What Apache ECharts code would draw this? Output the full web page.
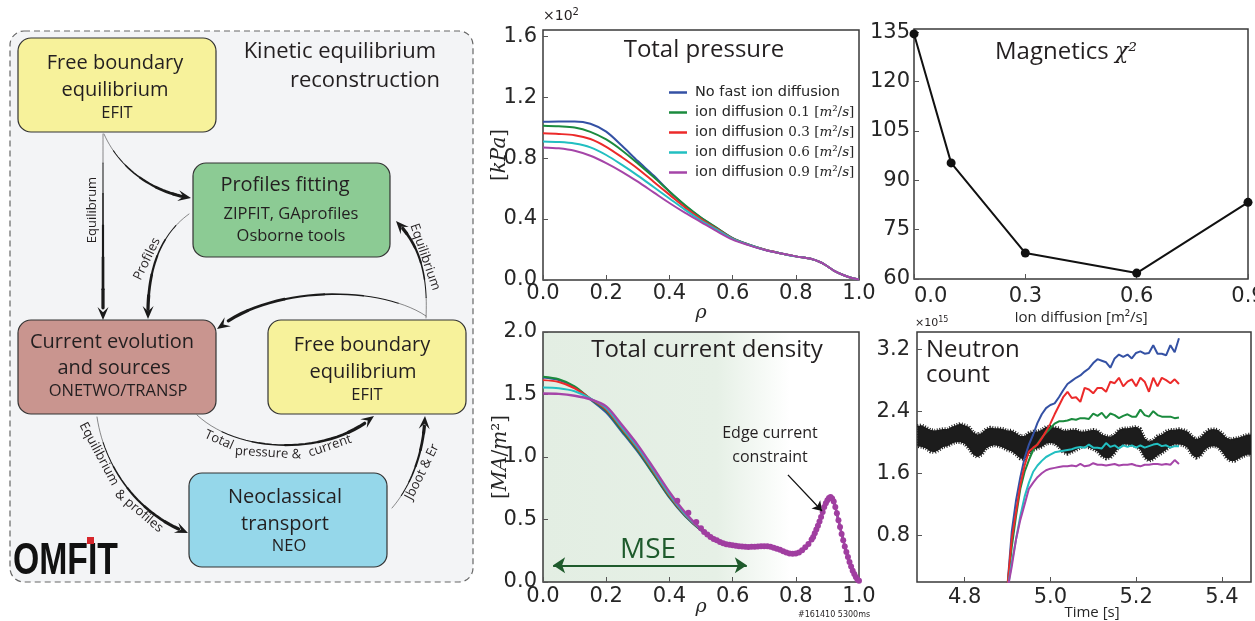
<!DOCTYPE html>
<html>
<head>
<meta charset="utf-8">
<title>Kinetic equilibrium reconstruction</title>
<script src="https://cdn.jsdelivr.net/npm/echarts@6/dist/echarts.min.js"></script>
<style>
  html, body { margin: 0; padding: 0; background: #fff; }
  #main { width: 1255px; height: 621px; }
</style>
</head>
<body>
<div id="main"></div>
<script>
// ---- data ----
const seriesColors = ['#3451a4', '#1b8b3e', '#ec2a2a', '#22bfc1', '#a545a8'];
const pressureNames = ['No fast ion diffusion', 'ion diffusion 0.1', 'ion diffusion 0.3', 'ion diffusion 0.6', 'ion diffusion 0.9'];
const diffRates = ['0.1', '0.3', '0.6', '0.9'];

// total pressure [kPa x 10^2] vs rho
const pressRho = [0, 0.05, 0.1, 0.15, 0.2, 0.25, 0.3, 0.35, 0.4, 0.45, 0.5, 0.55, 0.6, 0.65, 0.7, 0.75, 0.8, 0.85, 0.88, 0.9, 0.92, 0.95, 0.98, 1.0];
const pressBlue   = [1.038, 1.04, 1.04, 1.025, 0.973, 0.88, 0.78, 0.685, 0.58, 0.487, 0.408, 0.34, 0.275, 0.233, 0.2, 0.176, 0.155, 0.138, 0.115, 0.09, 0.062, 0.033, 0.012, 0.004];
const pressGreen  = [1.012, 1.008, 1.0, 0.972, 0.922, 0.85, 0.765, 0.675, 0.58, 0.49, 0.41, 0.343, 0.275, 0.233, 0.2, 0.176, 0.155, 0.138, 0.115, 0.09, 0.062, 0.033, 0.012, 0.004];
const pressRed    = [0.962, 0.958, 0.95, 0.925, 0.874, 0.805, 0.73, 0.645, 0.56, 0.475, 0.4, 0.335, 0.272, 0.232, 0.2, 0.176, 0.155, 0.138, 0.115, 0.09, 0.062, 0.033, 0.012, 0.004];
const pressCyan   = [0.909, 0.905, 0.895, 0.87, 0.82, 0.755, 0.685, 0.61, 0.535, 0.46, 0.39, 0.33, 0.27, 0.231, 0.199, 0.176, 0.155, 0.138, 0.115, 0.09, 0.062, 0.033, 0.012, 0.004];
const pressPurple = [0.87, 0.864, 0.848, 0.815, 0.767, 0.71, 0.645, 0.575, 0.505, 0.44, 0.38, 0.32, 0.265, 0.229, 0.198, 0.175, 0.155, 0.138, 0.115, 0.09, 0.062, 0.033, 0.012, 0.004];

// magnetics chi^2 vs ion diffusion
const diffusion = [0, 0.1, 0.3, 0.6, 0.9];
const chi2 = [134.5, 95.3, 67.9, 61.8, 83.3];

// total current density [MA/m^2] vs rho
const curRho = [0, 0.05, 0.1, 0.15, 0.2, 0.25, 0.3, 0.35, 0.4, 0.45, 0.5, 0.55, 0.6, 0.65, 0.7, 0.75, 0.78, 0.8, 0.82, 0.85, 0.88, 0.9, 0.91, 0.92, 0.94, 0.96, 0.98, 1.0];
const curBlue   = [1.635, 1.615, 1.56, 1.46, 1.355, 1.2, 1.04, 0.86, 0.675, 0.525, 0.413, 0.335, 0.295, 0.282, 0.287, 0.262, 0.228, 0.23, 0.252, 0.34, 0.52, 0.655, 0.68, 0.645, 0.44, 0.24, 0.09, 0.01];
const curGreen  = [1.642, 1.622, 1.566, 1.465, 1.37, 1.21, 1.05, 0.865, 0.68, 0.53, 0.415, 0.335, 0.295, 0.282, 0.287, 0.262, 0.228, 0.23, 0.252, 0.34, 0.52, 0.655, 0.68, 0.645, 0.44, 0.24, 0.09, 0.01];
const curRed    = [1.615, 1.6, 1.55, 1.468, 1.38, 1.225, 1.065, 0.88, 0.69, 0.535, 0.418, 0.336, 0.295, 0.282, 0.287, 0.262, 0.228, 0.23, 0.253, 0.34, 0.52, 0.655, 0.68, 0.645, 0.44, 0.24, 0.09, 0.01];
const curCyan   = [1.556, 1.55, 1.526, 1.468, 1.39, 1.235, 1.075, 0.89, 0.70, 0.54, 0.42, 0.337, 0.296, 0.283, 0.288, 0.262, 0.228, 0.23, 0.253, 0.34, 0.52, 0.656, 0.68, 0.645, 0.44, 0.24, 0.09, 0.01];
const curPurple = [1.508, 1.505, 1.49, 1.462, 1.405, 1.255, 1.095, 0.91, 0.72, 0.555, 0.425, 0.338, 0.296, 0.283, 0.288, 0.262, 0.228, 0.23, 0.254, 0.34, 0.52, 0.656, 0.68, 0.645, 0.44, 0.24, 0.09, 0.01];
// constraint points (purple dots)
const dotRho = [0.425, 0.46, 0.485, 0.50, 0.51, 0.52, 0.53, 0.54, 0.55, 0.56, 0.57, 0.58, 0.59, 0.60, 0.61, 0.62, 0.63, 0.64, 0.65,
                0.66, 0.67, 0.68, 0.69, 0.70, 0.71, 0.72, 0.73, 0.74, 0.75, 0.76, 0.77, 0.78, 0.79, 0.80, 0.81, 0.82, 0.83, 0.84,
                0.85, 0.855, 0.86, 0.865, 0.87, 0.875, 0.88, 0.885, 0.89, 0.895, 0.90, 0.905, 0.91, 0.915, 0.92, 0.925, 0.93,
                0.935, 0.94, 0.945, 0.95, 0.955, 0.96, 0.965, 0.97, 0.975, 0.98, 0.985, 0.99, 0.995, 1.0];
const dotVal = [0.65, 0.554, 0.48, 0.43, 0.40, 0.38, 0.36, 0.345, 0.335, 0.32, 0.31, 0.303, 0.298, 0.295, 0.29, 0.287, 0.285, 0.283, 0.281,
                0.282, 0.283, 0.285, 0.287, 0.287, 0.286, 0.282, 0.275, 0.267, 0.258, 0.246, 0.236, 0.229, 0.226, 0.228, 0.237, 0.254, 0.278, 0.305,
                0.34, 0.36, 0.39, 0.42, 0.45, 0.485, 0.52, 0.56, 0.60, 0.63, 0.655, 0.672, 0.68, 0.668, 0.645, 0.60, 0.55,
                0.495, 0.44, 0.385, 0.335, 0.285, 0.24, 0.2, 0.16, 0.125, 0.09, 0.065, 0.04, 0.02, 0.01];
const mseRange = [0.032, 0.645];
const mseLevel = 0.134;
const edgeArrow = [[0.775, 0.857], [0.883, 0.568]];

// neutron count [x 10^15] vs time
const nTime = [4.90, 4.91, 4.92, 4.93, 4.94, 4.95, 4.96, 4.97, 4.98, 4.99, 5.00, 5.01, 5.02, 5.03, 5.04, 5.05, 5.06, 5.07, 5.08, 5.09, 5.10,
               5.11, 5.12, 5.13, 5.14, 5.15, 5.16, 5.17, 5.18, 5.19, 5.20, 5.21, 5.22, 5.23, 5.24, 5.25, 5.26, 5.27, 5.28, 5.29, 5.30];
const nBlue   = [0.15, 0.85, 1.25, 1.55, 1.8, 1.97, 2.1, 2.25, 2.36, 2.44, 2.48, 2.5, 2.58, 2.67, 2.75, 2.79, 2.83, 2.86, 2.91, 2.95, 3.02,
                 3.07, 3.05, 3.03, 2.96, 3.08, 3.13, 3.10, 3.13, 3.08, 3.15, 3.17, 3.14, 3.15, 3.25, 3.14, 3.14, 3.12, 3.25, 3.16, 3.34];
const nGreen  = [0.15, 0.65, 1.05, 1.4, 1.62, 1.77, 1.9, 1.98, 2.06, 2.12, 2.18, 2.24, 2.27, 2.27, 2.28, 2.3, 2.29, 2.31, 2.31, 2.3, 2.37,
                 2.34, 2.38, 2.31, 2.37, 2.35, 2.31, 2.34, 2.36, 2.33, 2.33, 2.42, 2.35, 2.33, 2.4, 2.35, 2.33, 2.33, 2.33, 2.31, 2.32];
const nRed    = [0.15, 0.75, 1.1, 1.45, 1.7, 1.88, 1.93, 1.97, 2.05, 2.14, 2.24, 2.36, 2.47, 2.58, 2.65, 2.57, 2.58, 2.52, 2.7, 2.68, 2.63,
                 2.7, 2.7, 2.65, 2.78, 2.76, 2.83, 2.72, 2.78, 2.81, 2.72, 2.83, 2.78, 2.65, 2.83, 2.72, 2.83, 2.8, 2.76, 2.81, 2.75];
const nCyan   = [0.1, 0.45, 0.75, 1.05, 1.3, 1.48, 1.62, 1.7, 1.76, 1.81, 1.84, 1.87, 1.88, 1.89, 1.9, 1.91, 1.93, 1.94, 1.93, 1.97, 1.93,
                 1.93, 1.92, 1.99, 1.94, 1.96, 1.92, 1.96, 1.94, 1.96, 1.93, 1.96, 1.93, 1.95, 1.97, 1.98, 1.95, 1.96, 1.93, 1.95, 1.95];
const nPurple = [0.1, 0.4, 0.75, 1.0, 1.2, 1.4, 1.48, 1.55, 1.6, 1.64, 1.66, 1.67, 1.68, 1.69, 1.69, 1.7, 1.69, 1.72, 1.69, 1.7, 1.73,
                 1.71, 1.71, 1.7, 1.71, 1.72, 1.7, 1.71, 1.71, 1.72, 1.7, 1.69, 1.71, 1.71, 1.72, 1.72, 1.71, 1.72, 1.71, 1.77, 1.72];
// measured signal: noisy band, upper / lower envelope
const bandTime = [4.69, 4.70, 4.71, 4.72, 4.73, 4.74, 4.75, 4.76, 4.77, 4.78, 4.79, 4.80, 4.81, 4.82, 4.83, 4.84, 4.85, 4.86, 4.87, 4.88,
                  4.89, 4.90, 4.91, 4.92, 4.93, 4.94, 4.95, 4.96, 4.97, 4.98, 4.99, 5.00, 5.01, 5.02, 5.03, 5.04, 5.05, 5.06, 5.07, 5.08,
                  5.09, 5.10, 5.11, 5.12, 5.13, 5.14, 5.15, 5.16, 5.17, 5.18, 5.19, 5.20, 5.21, 5.22, 5.23, 5.24, 5.25, 5.26, 5.27, 5.28,
                  5.29, 5.30, 5.31, 5.32, 5.33, 5.34, 5.35, 5.36, 5.37, 5.38, 5.39, 5.40, 5.41, 5.42, 5.43, 5.44, 5.45, 5.46, 5.47];
const bandUpper = [2.21, 2.22, 2.19, 2.16, 2.15, 2.16, 2.17, 2.17, 2.2, 2.22, 2.24, 2.22, 2.2, 2.13, 2.1, 2.12, 2.17, 2.19, 2.18, 2.18,
                   2.17, 2.15, 2.15, 2.12, 2.08, 2.08, 2.12, 2.14, 2.14, 2.16, 2.2, 2.2, 2.19, 2.18, 2.15, 2.15, 2.16, 2.16, 2.14, 2.14,
                   2.15, 2.16, 2.15, 2.1, 2.08, 2.07, 2.1, 2.16, 2.18, 2.18, 2.19, 2.2, 2.17, 2.05, 2.01, 2.03, 2.08, 2.1, 2.14, 2.16,
                   2.16, 2.17, 2.16, 2.14, 2.08, 2.04, 2.06, 2.12, 2.16, 2.17, 2.16, 2.12, 2.06, 2.04, 2.05, 2.06, 2.08, 2.1, 2.1];
const bandLower = [1.95, 1.94, 1.92, 1.88, 1.87, 1.9, 1.94, 1.95, 1.98, 2.0, 2.0, 1.98, 1.92, 1.84, 1.81, 1.84, 1.92, 1.95, 1.96, 1.95,
                   1.93, 1.9, 1.88, 1.84, 1.79, 1.78, 1.85, 1.9, 1.92, 1.94, 1.98, 1.99, 1.98, 1.94, 1.87, 1.85, 1.87, 1.9, 1.93, 1.95,
                   1.93, 1.91, 1.88, 1.82, 1.79, 1.8, 1.86, 1.94, 1.97, 1.97, 1.96, 1.95, 1.9, 1.8, 1.76, 1.78, 1.83, 1.86, 1.9, 1.95,
                   1.97, 1.97, 1.96, 1.93, 1.84, 1.8, 1.82, 1.9, 1.94, 1.95, 1.94, 1.88, 1.8, 1.76, 1.76, 1.79, 1.82, 1.84, 1.84];

// tick labels
const pressYTicks = ['0.0', '0.4', '0.8', '1.2', '1.6'];
const timeTicks = [4.8, 5.0, 5.2, 5.4];
const neutronTicks = [0.8, 1.6, 2.4, 3.2];

// ---- helpers ----
const pairs = (xs, ys) => xs.map((x, i) => [x, ys[i]]);
const ink = '#262626';
const tickFont = 'DejaVu Sans';
const sans = 'Open Sans';

function axisBase(gridIndex, o) {
  return {
    type: 'value',
    gridIndex: gridIndex,
    min: o.min, max: o.max, interval: o.interval,
    axisLine: { show: false },
    axisTick: { show: true, inside: true, length: 5, lineStyle: { color: '#555', width: 1 }, customValues: o.custom },
    axisLabel: {
      fontFamily: tickFont, fontSize: 21, color: ink, margin: o.margin,
      showMaxLabel: o.showMax !== false, customValues: o.custom,
      alignMinLabel: o.alignMin, formatter: o.fmt || (v => v.toFixed(1))
    },
    splitLine: { show: false },
    name: o.name, nameLocation: 'middle', nameGap: o.nameGap, nameRotate: o.nameRotate,
    nameTextStyle: o.nameStyle, nameMoveOverlap: false
  };
}

function line(name, data, color, xi, extra) {
  return Object.assign({
    name: name, type: 'line', xAxisIndex: xi, yAxisIndex: xi, data: data,
    showSymbol: false, smooth: 0.3, clip: true,
    lineStyle: { color: color, width: 2 }, itemStyle: { color: color }, z: 3
  }, extra || {});
}

// ---- diagram on the left (graphic) ----
const G = [];
G.push({ type: 'rect', z: -5, shape: { x: 10, y: 31, width: 463, height: 551, r: 14 },
         style: { fill: '#f3f4f6', stroke: '#666', lineWidth: 1.2, lineDash: [6, 4] } });

function box(x, y, w, h, fill) {
  G.push({ type: 'rect', shape: { x: x, y: y, width: w, height: h, r: 13 }, style: { fill: fill, stroke: '#333', lineWidth: 1.2 } });
}
box(18, 38, 198, 94, '#f7f29b');
box(193, 163, 197, 94, '#8ccb94');
box(18, 320, 198, 94, '#c9958f');
box(268, 320, 198, 94, '#f7f29b');
box(189, 473, 198, 94, '#95d7ea');

function txt(s, x, y, size, o) {
  o = o || {};
  G.push({ type: 'text', x: x, y: y, rotation: o.rot || 0, z: 10,
           style: { text: s, fontFamily: o.font || sans, fontSize: size, fill: o.color || '#231f20',
                    align: o.align || 'center', verticalAlign: 'middle', fontWeight: o.weight || 'normal', rich: o.rich } });
}
const diagramText = [
  ['Free boundary', 115, 63, 20], ['equilibrium', 115, 90, 20], ['EFIT', 117, 113, 16.5],
  ['Profiles fitting', 285, 185, 20], ['ZIPFIT, GAprofiles', 291, 214, 16.5], ['Osborne tools', 291, 236, 16.5],
  ['Current evolution', 112, 342, 20], ['and sources', 114, 368, 20], ['ONETWO/TRANSP', 118, 391, 16.5],
  ['Free boundary', 362, 345, 20], ['equilibrium', 363, 372, 20], ['EFIT', 367, 395, 16.5],
  ['Neoclassical', 285, 497, 20], ['transport', 285, 524, 20], ['NEO', 289, 546, 16.5]
];
diagramText.forEach(d => txt(d[0], d[1], d[2], d[3]));
txt('Kinetic equilibrium', 436, 52, 22, { align: 'right' });
txt('reconstruction', 440, 81, 22, { align: 'right' });

const arrowText = [
  ['Equilibrum', 92, 210, Math.PI / 2], ['Profiles', 147, 259, 1.12], ['Equilibrium', 425, 257, -1.24],
  ['Equilibrium', 99, 454, -1.08], ['& profiles', 139, 511, -0.7],
  ['Total', 219, 440, -0.42], ['pressure &', 268, 453, -0.06], ['current', 330, 446, 0.33],
  ['Jboot & Er', 422, 472, 1.11]
];
arrowText.forEach(d => txt(d[0], d[1], d[2], 13, { rot: d[3] }));

// arrows: cubic curves [start, c1, c2, tip], drawn thin -> thick toward the head
const arrows = [
  [[103, 134], [103, 190], [103, 260], [103, 320]],
  [[104, 134], [120, 170], [155, 193], [191, 198]],
  [[189, 214], [160, 235], [147, 270], [148, 319]],
  [[426, 318], [428, 275], [420, 245], [396, 221]],
  [[426, 316], [380, 285], [270, 285], [217, 329]],
  [[97, 417], [105, 470], [140, 515], [188, 533]],
  [[197, 415], [240, 455], [330, 455], [374, 416]],
  [[392, 508], [412, 485], [424, 450], [425, 416]]
];
function bez(c, t) {
  const u = 1 - t;
  return [0, 1].map(k => u * u * u * c[0][k] + 3 * u * u * t * c[1][k] + 3 * u * t * t * c[2][k] + t * t * t * c[3][k]);
}
arrows.forEach(c => {
  const tip = c[3];
  const pts = [];
  for (let i = 0; i <= 30; i++) {
    const p = bez(c, i / 30);
    if (Math.hypot(p[0] - tip[0], p[1] - tip[1]) > 7) pts.push(p);
  }
  const seg = 5;
  for (let k = 0; k * seg < pts.length - 1; k++) {
    G.push({ type: 'polyline', silent: true, shape: { points: pts.slice(k * seg, k * seg + seg + 1) },
             style: { stroke: '#1a1a1a', lineWidth: 0.5 + k * 0.55, fill: 'none', lineCap: 'round' } });
  }
  const from = bez(c, 0.9);
  const dx = tip[0] - from[0], dy = tip[1] - from[1];
  const L = Math.hypot(dx, dy), ux = dx / L, uy = dy / L, px = -uy, py = ux;
  const len = 13, hw = 5.5;
  G.push({ type: 'polygon', shape: { points: [
    tip,
    [tip[0] - ux * len + px * hw, tip[1] - uy * len + py * hw],
    [tip[0] - ux * len * 0.6, tip[1] - uy * len * 0.6],
    [tip[0] - ux * len - px * hw, tip[1] - uy * len - py * hw]
  ] }, style: { fill: '#1a1a1a' } });
});

// OMFIT logo
G.push({ type: 'text', x: 13, y: 562, scaleX: 0.75, z: 10,
         style: { text: 'OMFIT', fontFamily: 'Liberation Sans', fontWeight: 'bold', fontSize: 45, fill: '#111', align: 'left', verticalAlign: 'middle' } });
G.push({ type: 'rect', z: 11, shape: { x: 87, y: 537, width: 7, height: 7 }, style: { fill: '#d7262c' } });

// plot titles and annotations
txt('Total pressure', 704, 50, 24);
txt('{a|Magnetics }{c|χ²}', 995, 52, 24, { align: 'left', rich: {
  a: { fontFamily: sans, fontSize: 24, color: '#231f20' },
  c: { fontFamily: 'DejaVu Serif', fontStyle: 'italic', fontSize: 22, color: '#231f20' } } });
txt('Total current density', 707, 350, 24);
txt('Neutron', 926, 350, 24, { align: 'left' });
txt('count', 926, 375, 24, { align: 'left' });
txt('Edge current', 770, 433, 16);
txt('constraint', 770, 457, 16);
txt('MSE', 648, 550, 28, { color: '#1e5a2c' });
txt('#161410 5300ms', 798, 615, 8, { align: 'left', font: 'DejaVu Sans' });
txt('{a|×10}{b|2}', 543, 16, 14, { align: 'left', rich: {
  a: { fontFamily: 'DejaVu Sans', fontSize: 14, color: '#444', lineHeight: 18 },
  b: { fontFamily: 'DejaVu Sans', fontSize: 10, color: '#444', verticalAlign: 'top' } } });
txt('{a|×10}{b|15}', 915, 323, 12, { align: 'left', rich: {
  a: { fontFamily: 'DejaVu Sans', fontSize: 11, color: '#444', lineHeight: 15 },
  b: { fontFamily: 'DejaVu Sans', fontSize: 8, color: '#444', verticalAlign: 'top' } } });

// ---- chart ----
const frame = { show: true, borderColor: '#3a3a3a', borderWidth: 1.5, backgroundColor: 'transparent', outerBoundsMode: 'none', containLabel: false };
const serifName = { fontFamily: 'DejaVu Serif', fontStyle: 'italic', fontSize: 19, color: ink };
const mathRich = {
  b: { fontFamily: 'DejaVu Serif', fontSize: 20, color: ink },
  i: { fontFamily: 'DejaVu Serif', fontStyle: 'italic', fontSize: 20, color: ink }
};

const option = {
  animation: false,
  backgroundColor: '#ffffff',
  grid: [
    Object.assign({ left: 543, top: 30, width: 316, height: 250 }, frame),
    Object.assign({ left: 914, top: 29, width: 334, height: 250 }, frame),
    Object.assign({}, frame, { left: 543, top: 332, width: 316, height: 250,
      backgroundColor: { type: 'linear', x: 0, y: 0, x2: 1, y2: 0, colorStops: [
        { offset: 0, color: '#e3eee3' }, { offset: 0.55, color: '#e6f0e6' }, { offset: 0.78, color: '#ffffff' }] } }),
    Object.assign({ left: 917, top: 332, width: 334, height: 250 }, frame)
  ],
  xAxis: [
    axisBase(0, { min: 0, max: 1, interval: 0.2, margin: 3, name: 'ρ', nameGap: 24, nameStyle: serifName }),
    axisBase(1, { min: 0, max: 0.9, interval: 0.3, margin: 7, alignMin: 'left', name: 'Ion diffusion [m²/s]', nameGap: 31,
                  nameStyle: { fontFamily: sans, fontSize: 15, color: ink } }),
    axisBase(2, { min: 0, max: 1, interval: 0.2, margin: 4, name: 'ρ', nameGap: 16, nameStyle: serifName }),
    axisBase(3, { min: 4.689, max: 5.468, custom: timeTicks, margin: 5, name: 'Time [s]', nameGap: 23,
                  nameStyle: { fontFamily: sans, fontSize: 15, color: ink, padding: [0, 0, 0, 16] } })
  ],
  yAxis: [
    axisBase(0, { min: 0, max: 1.64, interval: 0.4, showMax: false, margin: 6, name: '{b|[}{i|kPa}{b|]}', nameGap: 33, nameRotate: 90,
                  nameStyle: { rich: mathRich }, fmt: v => pressYTicks[Math.round(v / 0.4)] || v.toFixed(1) }),
    axisBase(1, { min: 60, max: 136, interval: 15, showMax: false, margin: 4, fmt: v => String(v) }),
    axisBase(2, { min: 0, max: 2, interval: 0.5, margin: 6, name: '{b|[}{i|MA}{b|/}{i|m}{b|²]}', nameGap: 32, nameRotate: 90,
                  nameStyle: { rich: mathRich } }),
    axisBase(3, { min: 0.2, max: 3.42, custom: neutronTicks, margin: 7 })
  ],
  legend: {
    data: pressureNames,
    orient: 'vertical', left: 664, top: 80,
    icon: 'rect', itemWidth: 18, itemHeight: 2.5, itemGap: 5,
    selectedMode: false,
    textStyle: { padding: [0, 0, 0, 3], rich: {
      t: { fontFamily: 'DejaVu Sans', fontSize: 14.5, color: ink, lineHeight: 16 },
      n: { fontFamily: 'DejaVu Serif', fontSize: 13.5, color: ink, lineHeight: 16 },
      i: { fontFamily: 'DejaVu Serif', fontStyle: 'italic', fontSize: 13.5, color: ink, lineHeight: 16 } } },
    formatter: function (name) {
      const k = pressureNames.indexOf(name);
      if (k <= 0) return '{t|' + name + '}';
      return '{t|ion diffusion }{n|' + diffRates[k - 1] + ' [}{i|m}{n|²/}{i|s}{n|]}';
    }
  },
  graphic: { elements: G },
  series: [
    line(pressureNames[0], pairs(pressRho, pressBlue), seriesColors[0], 0),
    line(pressureNames[1], pairs(pressRho, pressGreen), seriesColors[1], 0),
    line(pressureNames[2], pairs(pressRho, pressRed), seriesColors[2], 0),
    line(pressureNames[3], pairs(pressRho, pressCyan), seriesColors[3], 0),
    line(pressureNames[4], pairs(pressRho, pressPurple), seriesColors[4], 0),

    line('chi2', pairs(diffusion, chi2), '#111', 1, { smooth: false, showSymbol: true, symbol: 'circle', symbolSize: 9 }),

    line('j blue', pairs(curRho, curBlue), seriesColors[0], 2),
    line('j green', pairs(curRho, curGreen), seriesColors[1], 2),
    line('j red', pairs(curRho, curRed), seriesColors[2], 2),
    line('j cyan', pairs(curRho, curCyan), seriesColors[3], 2),
    line('j purple', pairs(curRho, curPurple), seriesColors[4], 2, { lineStyle: { color: seriesColors[4], width: 2.5 } }),
    {
      name: 'j constraint', type: 'scatter', xAxisIndex: 2, yAxisIndex: 2, data: pairs(dotRho, dotVal),
      symbolSize: 6, itemStyle: { color: '#a03ea0', opacity: 1 }, z: 4,
      markLine: {
        silent: true, symbolSize: [12, 12], label: { show: false }, animation: false,
        data: [
          [{ coord: [mseRange[0], mseLevel], symbol: 'arrow', lineStyle: { color: '#1f5b2c', width: 2, type: 'solid' } },
           { coord: [mseRange[1], mseLevel], symbol: 'arrow', lineStyle: { color: '#1f5b2c', width: 2, type: 'solid' } }],
          [{ coord: edgeArrow[0], symbol: 'none', lineStyle: { color: '#111', width: 1.3, type: 'solid' } },
           { coord: edgeArrow[1], symbol: 'arrow', symbolSize: 9, lineStyle: { color: '#111', width: 1.3, type: 'solid' } }]
        ]
      }
    },

    line('n blue', pairs(nTime, nBlue), seriesColors[0], 3, { smooth: false }),
    {
      name: 'measured', type: 'custom', xAxisIndex: 3, yAxisIndex: 3, clip: true, z: 3,
      data: [[bandTime[0], bandUpper[0]]],
      renderItem: function (params, api) {
        const pts = [];
        for (let i = 0; i < bandTime.length; i++) pts.push(api.coord([bandTime[i], bandUpper[i]]));
        for (let i = bandTime.length - 1; i >= 0; i--) pts.push(api.coord([bandTime[i], bandLower[i]]));
        // dashed thick outline gives the band a rough, noisy edge
        return { type: 'polygon', shape: { points: pts },
                 style: { fill: '#1c1c1c', stroke: '#1c1c1c', lineWidth: 3.5, lineDash: [1, 1.6] } };
      }
    },
    line('n green', pairs(nTime, nGreen), seriesColors[1], 3, { smooth: false, z: 4 }),
    line('n red', pairs(nTime, nRed), seriesColors[2], 3, { smooth: false, z: 4 }),
    line('n cyan', pairs(nTime, nCyan), seriesColors[3], 3, { smooth: false, z: 4 }),
    line('n purple', pairs(nTime, nPurple), seriesColors[4], 3, { smooth: false, z: 4 })
  ]
};

const chart = echarts.init(document.getElementById('main'));
chart.setOption(option);
</script>
</body>
</html>
